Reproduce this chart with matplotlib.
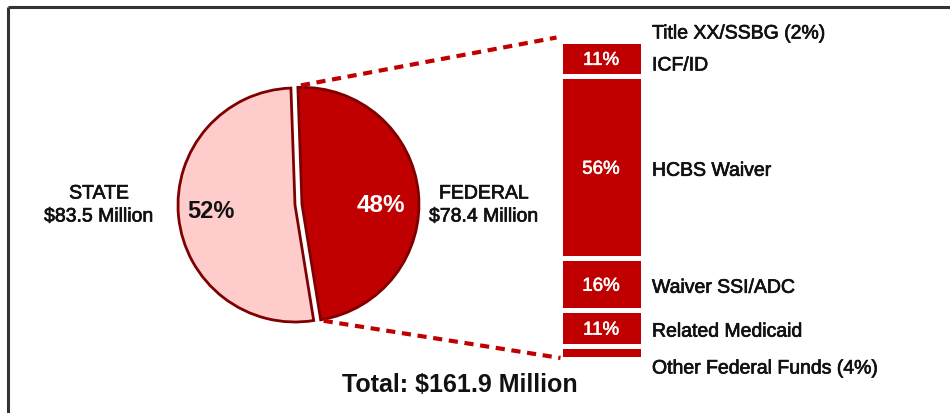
import matplotlib

matplotlib.use("Agg")
import matplotlib.pyplot as plt
import matplotlib.patheffects as pe
import numpy as np

plt.rcParams["font.family"] = ["Liberation Sans", "DejaVu Sans"]

# pie data
pie_labels = ["FEDERAL", "STATE"]
pie_amounts = ["$78.4 Million", "$83.5 Million"]
pie_pcts = [48, 52]

# federal breakdown, top to bottom
fed_labels = ["Title XX/SSBG (2%)", "ICF/ID", "HCBS Waiver", "Waiver SSI/ADC",
              "Related Medicaid", "Other Federal Funds (4%)"]
fed_pcts = [2, 11, 56, 16, 11, 4]
fed_show_pct = [False, True, True, True, True, False]

total_label = "Total: $161.9 Million"

RED = "#C00000"
DARK = "#7F0000"
PINK = "#FFCCCC"
INK = "#111111"

# fake a medium weight by stroking the glyphs slightly
heavy = [pe.withStroke(linewidth=0.5, foreground=INK)]
heavy_w = [pe.withStroke(linewidth=0.4, foreground="white")]

W, H = 950, 414
fig = plt.figure(figsize=(W / 100, H / 100), dpi=100)
ax = fig.add_axes([0, 0, 1, 1])

# frame (top and left edges only visible)
ax.plot([8, W], [H - 8, H - 8], color="#333333", lw=2.2, solid_capstyle="butt")
ax.plot([8, 8], [H - 8, 0], color="#333333", lw=2.2, solid_capstyle="butt")

# pie
cx, cy, r = 295, 208, 117
start = 92
wedges, _ = ax.pie(pie_pcts, colors=[RED, PINK], startangle=start, counterclock=False,
                   center=(cx, cy), radius=r, explode=[7, 0],
                   wedgeprops=dict(edgecolor=DARK, linewidth=2))
ax.set_xlim(0, W)
ax.set_ylim(0, H)
ax.set_aspect("equal")
ax.axis("off")

ax.text(cx + 86, cy + 1, f"{pie_pcts[0]}%", color="white", fontsize=17.5, fontweight="bold",
        ha="center", va="center")
ax.text(cx - 84, cy - 6, f"{pie_pcts[1]}%", color=INK, fontsize=17, fontweight="bold",
        ha="center", va="center")
for x0, lab, amt in [(484, pie_labels[0], pie_amounts[0]), (99, pie_labels[1], pie_amounts[1])]:
    ax.text(x0, cy + 11, lab, fontsize=14, ha="center", va="center", color=INK,
            path_effects=heavy)
    ax.text(x0, cy - 12, amt, fontsize=14, ha="center", va="center", color=INK,
            path_effects=heavy)

# stacked bar of federal funds
bx, bw = 601, 83
scale = 3.25
bottom = 54
segs = []
for lab, p, show in zip(fed_labels[::-1], fed_pcts[::-1], fed_show_pct[::-1]):
    h = p * scale
    fc = "white" if lab.startswith("Title") else RED
    ax.bar(bx, h, width=bw, bottom=bottom, color=fc, edgecolor="white", linewidth=3.6)
    segs.append((lab, p, show, bottom, h))
    bottom += h

label_y = {"Title XX/SSBG (2%)": H - 35, "ICF/ID": H - 67,
           "Other Federal Funds (4%)": H - 370}
for lab, p, show, b, h in segs:
    mid = b + h / 2 - 2
    if show:
        ax.text(bx, mid, f"{p}%", color="white", fontsize=13.5, ha="center", va="center",
                path_effects=heavy_w)
    ax.text(652, label_y.get(lab, mid - 2), lab, fontsize=14, ha="left", va="center",
            color=INK, path_effects=heavy)

# dashed connectors from federal wedge to bar
fed = wedges[0]
fcx, fcy = fed.center
t1, t2 = np.deg2rad(fed.theta2), np.deg2rad(fed.theta1)
top_pt = (fcx + r * np.cos(t1), fcy + r * np.sin(t1))
bot_pt = (fcx + r * np.cos(t2), fcy + r * np.sin(t2))
bar_left = bx - bw / 2 + 1
bar_top = segs[-2][3] + segs[-2][4] - 1
bar_bot = segs[0][3] + 1
ax.plot([top_pt[0] + 3, bar_left - 4], [top_pt[1] + 2, bar_top + 4], color=RED, lw=3,
        ls=(0, (2.2, 1.6)))
ax.plot([bot_pt[0] + 3, bar_left], [bot_pt[1] - 1, bar_bot], color=RED, lw=3,
        ls=(0, (2.2, 1.6)))

ax.text(460, H - 385, total_label, fontsize=18, fontweight="bold", ha="center",
        va="center", color=INK)

fig.savefig("out.png", dpi=100)
